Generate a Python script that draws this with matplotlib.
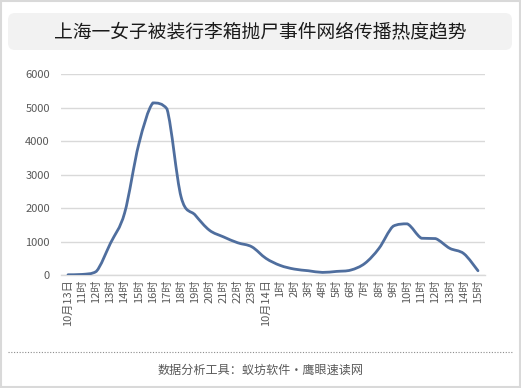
import numpy as np
import matplotlib
matplotlib.use('Agg')
import matplotlib.pyplot as plt
from matplotlib.path import Path
from matplotlib.patches import PathPatch, FancyBboxPatch, Rectangle
from matplotlib.lines import Line2D

plt.rcParams['font.family'] = ['Noto Sans CJK SC', 'DejaVu Sans']

# x labels (hourly, 10月13日 10时 .. 10月14日 15时)
labels = ['10月13日', '11时', '12时', '13时', '14时', '15时', '16时', '17时',
          '18时', '19时', '20时', '21时', '22时', '23时', '10月14日',
          '1时', '2时', '3时', '4时', '5时', '6时', '7时', '8时', '9时',
          '10时', '11时', '12时', '13时', '14时', '15时']
values = [10, 20, 110, 950, 1850, 3900, 5140, 4960, 2330, 1790,
          1340, 1140, 965, 845, 500, 290, 180, 130, 80, 110,
          150, 350, 800, 1460, 1530, 1100, 1090, 800, 640, 130]

title = '上海一女子被装行李箱抛尸事件网络传播热度趋势'
footer = '数据分析工具：蚁坊软件・鹰眼速读网'
line_color = '#4f6e9e'

fig = plt.figure(figsize=(5.21, 3.88), dpi=100)
fig.patch.set_facecolor('white')

# outer border
fig.patches.append(Rectangle((0.002, 0.002), 0.996, 0.996, transform=fig.transFigure,
                             facecolor='none', edgecolor='#d9d9d9', linewidth=1.5))
# title box
fig.patches.append(FancyBboxPatch((8, 338), 504, 37,
                                  boxstyle='round,pad=0,rounding_size=7',
                                  transform=None, facecolor='#f2f2f2',
                                  edgecolor='none'))
fig.text(0.5, 0.918, title, ha='center', va='center', fontsize=13.5, color='#1a1a1a')

ax = fig.add_axes([0.117, 0.291, 0.814, 0.518])
x = np.arange(len(values))
y = np.array(values, dtype=float)

# smooth curve through the points (Bezier, handles kept inside each segment)
pts = np.column_stack([x, y])
ext = np.vstack([pts[0], pts, pts[-1]])
verts = [tuple(pts[0])]
codes = [Path.MOVETO]
for i in range(len(pts) - 1):
    p0, p1, p2, p3 = ext[i], ext[i + 1], ext[i + 2], ext[i + 3]
    c1 = p1 + (p2 - p0) / 6.0
    c2 = p2 - (p3 - p1) / 6.0
    lo, hi = min(p1[1], p2[1]), max(p1[1], p2[1])
    c1[1] = np.clip(c1[1], lo, hi)
    c2[1] = np.clip(c2[1], lo, hi)
    verts += [tuple(c1), tuple(c2), tuple(p2)]
    codes += [Path.CURVE4] * 3
ax.add_patch(PathPatch(Path(verts, codes), facecolor='none', edgecolor=line_color,
                       linewidth=2.0, capstyle='round', joinstyle='round', zorder=3))

ax.set_xlim(-0.5, len(values) - 0.5)
ax.set_ylim(0, 6000)
ax.set_yticks(np.arange(0, 6001, 1000))
ax.set_xticks(x)
ax.set_xticklabels(labels, rotation=90, fontsize=8, color='#595959')
ax.tick_params(axis='y', labelsize=8, colors='#595959', length=0, pad=8)
ax.tick_params(axis='x', length=0, pad=3)
ax.grid(axis='y', color='#d9d9d9', linewidth=1)
ax.set_axisbelow(True)
for s in ['top', 'right', 'left']:
    ax.spines[s].set_visible(False)
ax.spines['bottom'].set_color('#d9d9d9')
ax.spines['bottom'].set_linewidth(1)

# footer
fig.add_artist(Line2D([0.016, 0.984], [0.093, 0.093], transform=fig.transFigure,
                      color='#8c8c8c', linewidth=0.8, linestyle=(0, (1, 1.5))))
fig.text(0.5, 0.046, footer, ha='center', va='center', fontsize=8.7, color='#595959')

fig.savefig('out.png', dpi=100)
